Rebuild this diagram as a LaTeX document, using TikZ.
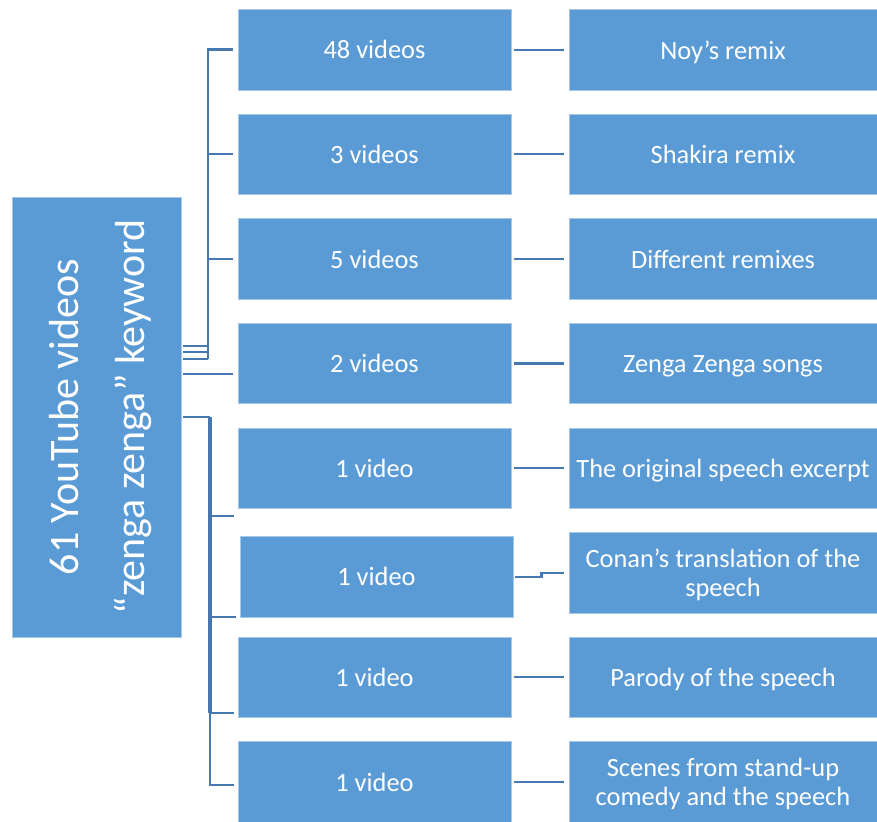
\documentclass[tikz,border=0pt]{standalone}
\usepackage{fontspec}
\setmainfont{Carlito}
\definecolor{boxblue}{HTML}{5B9BD5}
\definecolor{linkblue}{HTML}{4677B0}
\newcommand{\rowgap}{104.6}

\begin{document}
\begin{tikzpicture}[x=1pt, y=-1pt,
    box/.style={fill=boxblue, draw=boxblue!55!white, line width=.8pt, text=white,
      inner sep=0pt, align=center, text depth=0pt, font=\fontsize{26.4}{29}\selectfont},
    link/.style={draw=linkblue, line width=2pt}]
  \useasboundingbox (0,0) rectangle (877,821);

  % root
  \node (root) at (96.5,417) [box, rotate=90, minimum width=440pt, minimum height=169pt,
    font=\fontsize{42}{66}\selectfont] {61 YouTube videos\\“zenga zenga” keyword};

  % rows
  \foreach \i/\dx/\dy/\cnt/\lbl in {1/0/0/48 videos/Noy’s remix,
      2/0/0/3 videos/Shakira remix,
      3/0/0/5 videos/Different remixes,
      4/0/0/2 videos/Zenga Zenga songs,
      5/0/0/1 video/The original speech excerpt,
      6/2/4/1 video/Conan’s translation of the\\speech,
      7/0/0/1 video/Parody of the speech,
      8/0/0/1 video/Scenes from stand-up\\comedy and the speech}
  {
    \node (m\i) at ({374.5+\dx},{49.75+\rowgap*(\i-1)+\dy}) [box, minimum width=273pt, minimum height=80.5pt] {\cnt};
    \node (r\i) at (723,{49.75+\rowgap*(\i-1)}) [box, minimum width=308pt, minimum height=80.5pt] {\lbl};
  }
  \foreach \i in {1,2,3,4,5,7,8}
    \draw[link, line width=2.2pt, shorten <=3pt, shorten >=5pt] (m\i.east) -- (r\i.west);
  \draw[link, line width=2.2pt, shorten <=2pt, shorten >=5pt] (m6.east) -- ++(28,0) |- (r6.west);

  % upper bus
  \coordinate (up) at (208,358.7);
  \foreach \y in {346,352.3,358.7}
    \draw[link, shorten <=2pt] (root.south |- 0,\y) -- (up |- 0,\y);
  \draw[link, line width=2.6pt, shorten >=5pt] (up) |- (m1.west);
  \foreach \k in {2,3}
    \draw[link, shorten >=5pt] (up |- m\k) -- (m\k.west);

  % row 4
  \draw[link, shorten <=2pt, shorten >=5pt] (root.south |- 0,374.3) -- (m4.west |- 0,374.3);

  % lower bus
  \coordinate (low) at (210,417);
  \coordinate (low2) at (210,713);
  \draw[link, shorten <=2pt] (root.south |- low) -- (low);
  \draw[link, line width=4pt] (low) -- (low2);
  \foreach \k/\y in {5/516,6/617,7/713}
    \draw[link, shorten >=4pt] (low |- 0,\y) -- (m\k.west |- 0,\y);
  \draw[link, shorten >=4pt] (low2) |- (m8.west |- 0,785);
\end{tikzpicture}
\end{document}
